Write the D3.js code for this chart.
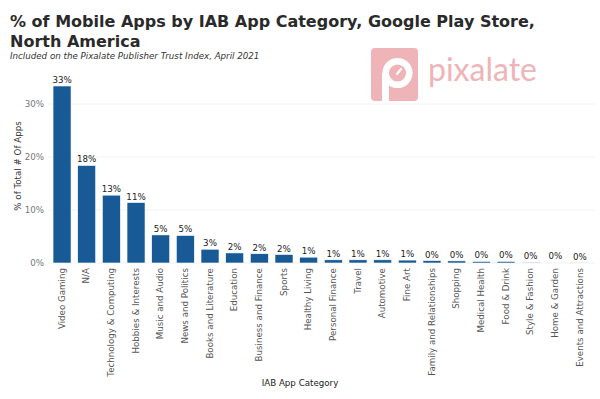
<!DOCTYPE html>
<html>
<head>
<meta charset="utf-8">
<script src="https://cdn.jsdelivr.net/npm/d3@7"></script>
<style>
  body { margin: 0; background: #fff; }
  svg { font-family: "DejaVu Sans", sans-serif; }
</style>
</head>
<body>
<div id="chart"></div>
<script>
// categories and values
const categories = [
  "Video Gaming", "N/A", "Technology & Computing", "Hobbies & Interests",
  "Music and Audio", "News and Politics", "Books and Literature", "Education",
  "Business and Finance", "Sports", "Healthy Living", "Personal Finance",
  "Travel", "Automotive", "Fine Art", "Family and Relationships", "Shopping",
  "Medical Health", "Food & Drink", "Style & Fashion", "Home & Garden",
  "Events and Attractions"
];
const shares = [33.4, 18.4, 12.8, 11.4, 5.3, 5.2, 2.6, 1.9, 1.75, 1.6, 1.1,
  0.6, 0.6, 0.6, 0.55, 0.45, 0.4, 0.3, 0.3, 0.15, 0.12, 0.02];
const labels = ["33%", "18%", "13%", "11%", "5%", "5%", "3%", "2%", "2%", "2%",
  "1%", "1%", "1%", "1%", "1%", "0%", "0%", "0%", "0%", "0%", "0%", "0%"];
const yTicks = [0, 10, 20, 30];

const width = 600, height = 399;
const fs = 8.7;
const svg = d3.select("#chart").append("svg")
  .attr("width", width).attr("height", height);

// watermark logo (drawn first, sits behind everything)
const pink = "#eeb4b7";
const logo = svg.append("g");
logo.append("rect").attr("x", 371).attr("y", 48).attr("width", 47).attr("height", 53)
  .attr("rx", 4).attr("fill", pink);
logo.append("rect").attr("x", 382).attr("y", 73).attr("width", 7).attr("height", 28)
  .attr("fill", "#fff");
logo.append("circle").attr("cx", 397.5).attr("cy", 73).attr("r", 11.8)
  .attr("fill", "none").attr("stroke", "#fff").attr("stroke-width", 6.5);
logo.append("line").attr("x1", 397).attr("y1", 74).attr("x2", 401).attr("y2", 69)
  .attr("stroke", "#fff").attr("stroke-width", 2.2).attr("stroke-linecap", "round");
logo.append("text").attr("x", 428).attr("y", 81)
  .attr("font-family", "Lato, 'Open Sans', sans-serif")
  .attr("font-size", 32).attr("fill", pink).text("pixalate");

// title + subtitle
svg.append("text").attr("x", 10).attr("y", 27)
  .attr("font-size", 16).attr("font-weight", "bold").attr("fill", "#2a2a2a")
  .text("% of Mobile Apps by IAB App Category, Google Play Store,");
svg.append("text").attr("x", 10).attr("y", 47)
  .attr("font-size", 16).attr("font-weight", "bold").attr("fill", "#2a2a2a")
  .text("North America");
svg.append("text").attr("x", 10).attr("y", 58.5)
  .attr("font-size", fs).attr("font-style", "italic").attr("fill", "#333")
  .text("Included on the Pixalate Publisher Trust Index, April 2021");

const x = d3.scaleBand().domain(categories)
  .range([49.7, 592.3]).paddingInner(0.27).paddingOuter(0.135);
const y = d3.scaleLinear().domain([0, 35]).range([263, 263 - 35 * 5.3]);

// grid
svg.append("g").selectAll("line").data(yTicks).join("line")
  .attr("x1", 48).attr("x2", 595)
  .attr("y1", d => y(d)).attr("y2", d => y(d))
  .attr("stroke", "#f2f2f2").attr("stroke-width", 1);

// y axis
const yAxis = svg.append("g").attr("transform", "translate(46,0)")
  .call(d3.axisLeft(y).tickValues(yTicks).tickFormat(d => d + "%").tickSize(0).tickPadding(2));
yAxis.select(".domain").remove();
yAxis.selectAll("text").attr("font-family", "DejaVu Sans, sans-serif")
  .attr("font-size", fs).attr("fill", "#777");

svg.append("text")
  .attr("transform", "translate(21,166) rotate(-90)")
  .attr("text-anchor", "middle").attr("font-size", fs).attr("fill", "#333")
  .text("% of Total # Of Apps");

// bars
svg.append("g").selectAll("rect").data(categories).join("rect")
  .attr("x", d => x(d))
  .attr("y", (d, i) => y(shares[i]))
  .attr("width", x.bandwidth())
  .attr("height", (d, i) => y(0) - y(shares[i]))
  .attr("fill", "#175a96")
  .attr("stroke", "#fff").attr("stroke-width", 0.6);

// value labels
svg.append("g").selectAll("text").data(categories).join("text")
  .attr("x", d => x(d) + x.bandwidth() / 2)
  .attr("y", (d, i) => y(shares[i]) - 3)
  .attr("text-anchor", "middle").attr("font-size", fs).attr("fill", "#222")
  .text((d, i) => labels[i]);

// x axis labels
const xAxis = svg.append("g").attr("transform", "translate(0,265)")
  .call(d3.axisBottom(x).tickSize(0).tickPadding(4));
xAxis.select(".domain").remove();
xAxis.selectAll("text")
  .attr("font-family", "DejaVu Sans, sans-serif")
  .attr("font-size", fs).attr("fill", "#555")
  .attr("transform", "rotate(-90)")
  .attr("text-anchor", "end")
  .attr("dx", "-0.35em").attr("dy", "0.32em")
  .attr("x", 0).attr("y", 0);

svg.append("text").attr("x", 300).attr("y", 386)
  .attr("text-anchor", "middle").attr("font-size", fs).attr("fill", "#222")
  .text("IAB App Category");
</script>
</body>
</html>
